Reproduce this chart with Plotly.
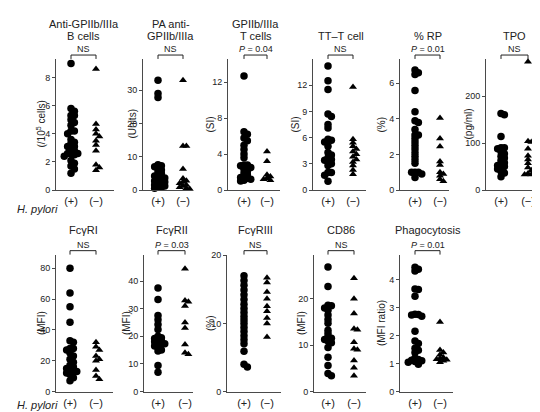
import plotly.graph_objects as go

W, H = 540, 412

# ---------------- data ----------------
titles = ["Anti-GPIIb/IIIa<br>B cells", "PA anti-<br>GPIIb/IIIa", "GPIIb/IIIa<br>T cells", "TT–T cell",
          "% RP", "TPO", "FcγRI", "FcγRII", "FcγRIII", "CD86", "Phagocytosis"]
y_titles = ["(/10<sup>5</sup> cells)", "(Units)", "(SI)", "(SI)", "(%)", "(pg/ml)",
            "(MFI)", "(MFI)", "(%)", "(MFI)", "(MFI ratio)"]
stats = ["NS", "NS", "<i>P</i> = 0.04", "NS", "<i>P</i> = 0.01", "NS",
         "NS", "<i>P</i> = 0.03", "NS", "NS", "<i>P</i> = 0.01"]
y_ticks = [[0, 2, 4, 6, 8], [0, 10, 20, 30], [0, 4, 8, 12], [0, 3, 6, 9, 12], [0, 2, 4, 6], [0, 100, 200],
           [0, 20, 40, 60, 80], [0, 10, 20, 30, 40], [0, 10, 20], [0, 10, 20], [0, 1, 2, 3, 4]]
y_max = [9.32, 39.4, 14.6, 15.0, 7.37, 279, 88.9, 49.6, 20.1, 29.5, 4.91]
group_labels = ["(+)", "(−)"]

b_cells_pos = [9.0, 5.8, 5.6, 5.3, 5.3, 5.0, 4.8, 4.6, 4.2, 4.2, 4.0, 3.6, 3.4, 3.3, 3.1, 3.1, 3.0, 2.8,
               2.6, 2.6, 2.6, 2.5, 2.4, 2.1, 1.9, 1.7, 1.5, 1.2]
b_cells_neg = [8.6, 4.7, 4.3, 4.0, 3.8, 3.5, 3.2, 2.8, 1.8, 1.6, 1.4]
pa_pos = [33.0, 29.0, 27.8, 7.6, 7.3, 7.0, 6.5, 6.0, 5.5, 5.0, 4.5, 4.2, 4.0, 3.6, 3.3, 3.0, 2.7, 2.4,
          2.0, 1.8, 1.5, 1.2, 1.0, 0.8, 0.5]
pa_neg = [33.0, 13.2, 13.2, 6.3, 3.5, 2.8, 2.4, 2.0, 1.5, 1.2, 0.8, 0.5, 0.3]
t_pos = [12.7, 6.5, 6.2, 5.8, 5.5, 5.0, 4.5, 4.0, 3.6, 2.8, 2.8, 2.7, 2.5, 2.3, 2.1, 1.9, 1.7, 1.5,
         1.4, 1.3, 1.2, 1.1, 1.0]
t_neg = [4.3, 3.2, 1.7, 1.5, 1.3, 1.2, 1.1]
tt_pos = [14.2, 12.5, 11.5, 8.7, 8.4, 7.5, 7.1, 5.8, 5.7, 5.5, 5.0, 4.3, 4.0, 3.7, 3.5, 3.4, 3.3, 3.0,
          2.8, 2.0, 2.0, 1.7, 1.0]
tt_neg = [11.8, 5.8, 5.4, 5.0, 4.7, 4.4, 4.1, 3.8, 3.5, 3.2, 2.8, 2.3, 1.8]
rp_pos = [6.75, 6.6, 6.5, 5.6, 4.4, 3.9, 3.8, 3.4, 3.1, 3.1, 2.9, 2.7, 2.5, 2.3, 2.1, 1.9, 1.7, 1.5,
          1.0, 1.0, 1.0, 0.9, 0.7]
rp_neg = [4.05, 2.9, 2.45, 1.6, 1.4, 1.0, 0.9, 0.8, 0.6, 0.5]
tpo_pos = [163, 160, 114, 90, 90, 88, 82, 77, 72, 68, 63, 58, 55, 52, 50, 48, 45, 40, 36, 28]
tpo_neg = [273, 104, 102, 88, 73, 65, 57, 48, 42, 35, 33, 33]
fc1_pos = [80, 64, 55, 45, 33, 32, 28, 28, 27, 25, 23, 21, 19, 17, 16, 15, 14, 13, 13, 12, 11, 9, 7]
fc1_neg = [32, 29, 27, 23, 21, 20, 14, 10, 8]
fc2_pos = [37.5, 33.3, 27.5, 26, 24.3, 22.5, 20, 19.5, 19.2, 18.8, 18.3, 18, 17.5, 17.3, 17, 16.5,
           16, 15, 14.7, 9.4, 7]
fc2_neg = [44.5, 33, 32.5, 31, 25, 23, 17, 14, 13.5]
fc3_pos = [17.0, 16.3, 15.6, 14.9, 14.2, 13.5, 12.8, 12.2, 11.6, 11.0, 10.5, 10.0, 9.4, 8.8, 8.2,
           7.6, 7.0, 5.9, 4.0, 3.6]
fc3_neg = [16.7, 16.0, 14.6, 13.6, 12.5, 11.8, 10.8, 10.0, 8.0]
cd86_pos = [26.8, 22.6, 18.6, 18.5, 18.0, 17.5, 16.5, 15.5, 14.7, 13.2, 12.5, 11.8, 11.5, 11.2, 10.9,
            10.5, 9.5, 7.4, 5.6, 3.9, 3.4]
cd86_neg = [24.4, 20.0, 16.8, 13.5, 13.3, 10.6, 9.2, 9.0, 6.7, 5.1, 3.4]
phago_pos = [4.46, 4.38, 4.32, 3.68, 3.66, 3.42, 2.77, 2.76, 2.74, 2.70, 2.16, 1.81, 1.72, 1.55, 1.48,
             1.40, 1.20, 1.15, 1.12, 1.10, 1.08, 1.05, 0.98]
phago_neg = [2.49, 1.49, 1.40, 1.32, 1.22, 1.18, 1.16, 1.14, 1.10, 1.05]

series_pos = [b_cells_pos, pa_pos, t_pos, tt_pos, rp_pos, tpo_pos, fc1_pos, fc2_pos, fc3_pos, cd86_pos, phago_pos]
series_neg = [b_cells_neg, pa_neg, t_neg, tt_neg, rp_neg, tpo_neg, fc1_neg, fc2_neg, fc3_neg, cd86_neg, phago_neg]

# ---------------- layout geometry (pixels) ----------------
# axis_x, cat1_x, cat2_x, x_end, ytitle_x, row
geo = [
    (48, 63, 88, 106, 33, 0),
    (135, 150, 175, 185, 124, 0),
    (220, 236, 259, 272, 202, 0),
    (305, 320, 345, 358, 287, 0),
    (392, 407, 432, 441, 373, 0),
    (478, 493, 520, 537, 460, 0),
    (48, 62, 88, 105, 33, 1),
    (136, 150, 177, 185, 118, 1),
    (219, 236, 259, 273, 202, 1),
    (306, 320, 346, 358, 293, 1),
    (392, 407, 432, 445, 373, 1),
]
rows = [dict(ybot=182, ytop=48, stat_y=38, title_y=[12, 25], lab_y=201),
        dict(ybot=388, ytop=248, stat_y=238, title_y=[210, 223], lab_y=402)]

AX = "#4a4a4a"
TXT = "#222222"
FONT = "Liberation Sans, Arial, sans-serif"
DIAM = 7.5
TRI = 7


def swarm(vals, ppu_y, ppu_x):
    """simple beeswarm: horizontal offsets (data units) avoiding heavy marker overlap"""
    order = sorted(range(len(vals)), key=lambda i: -vals[i])
    placed = []
    res = [0.0] * len(vals)
    step = DIAM * 0.45
    mind = DIAM * 0.42
    cands = [0.0]
    for j in range(1, 12):
        cands += [j * step, -j * step]
    for i in order:
        y = vals[i] * ppu_y
        chosen = cands[-1]
        for c in cands:
            if all((c - px) ** 2 + (y - py) ** 2 >= mind ** 2 for px, py in placed):
                chosen = c
                break
        placed.append((chosen, y))
        res[i] = chosen / ppu_x
    return res


fig = go.Figure()
annotations = []
shapes = []

for k in range(11):
    ax_x, c1, c2, xend, ytx, row = geo[k]
    r = rows[row]
    n = k + 1
    xa = "x" if n == 1 else f"x{n}"
    ya = "y" if n == 1 else f"y{n}"
    xkey = "xaxis" if n == 1 else f"xaxis{n}"
    ykey = "yaxis" if n == 1 else f"yaxis{n}"
    ppx = c2 - c1
    x0 = 1 - (c1 - ax_x) / ppx
    x1 = 2 + (xend - c2) / ppx
    ppu_y = (r["ybot"] - r["ytop"]) / y_max[k]

    for gi, (vals, sym, size) in enumerate([(series_pos[k], "circle", DIAM), (series_neg[k], "triangle-up", TRI)]):
        offs = swarm(vals, ppu_y, ppx)
        fig.add_trace(go.Scatter(
            x=[gi + 1 + o for o in offs], y=vals, mode="markers",
            marker=dict(symbol=sym, size=size, color="black", line=dict(width=0)),
            xaxis=xa, yaxis=ya, showlegend=False, hoverinfo="y", cliponaxis=False))

    fig.layout[xkey] = dict(
        domain=[ax_x / W, xend / W], range=[x0, x1], anchor=ya,
        showline=True, linecolor=AX, linewidth=1, showgrid=False, zeroline=False,
        tickmode="array", tickvals=[1, 2], ticktext=group_labels, ticks="",
        ticklabelstandoff=1, tickfont=dict(size=11, color=TXT, family=FONT), fixedrange=True)
    fig.layout[ykey] = dict(
        domain=[1 - r["ybot"] / H, 1 - r["ytop"] / H], range=[0, y_max[k]], anchor=xa,
        showline=True, linecolor=AX, linewidth=1, showgrid=False, zeroline=False,
        tickmode="array", tickvals=y_ticks[k], ticks="outside", ticklen=3, tickcolor=AX,
        tickfont=dict(size=9, color=TXT, family=FONT), fixedrange=True)

    cx = ((c1 + c2) / 2) / W
    lines = titles[k].split("<br>")
    ty = r["title_y"][-len(lines):]
    for line, yy in zip(lines, ty):
        annotations.append(dict(text=line, x=cx, y=1 - yy / H, xref="paper", yref="paper",
                                xanchor="center", yanchor="middle", showarrow=False,
                                font=dict(size=11, color=TXT, family=FONT)))
    annotations.append(dict(text=stats[k], x=cx, y=1 - r["stat_y"] / H, xref="paper", yref="paper",
                            xanchor="center", yanchor="middle", showarrow=False,
                            font=dict(size=9, color=TXT, family=FONT)))
    annotations.append(dict(text=y_titles[k], x=ytx / W, y=1 - (r["ybot"] + r["ytop"]) / 2 / H,
                            xref="paper", yref="paper", xanchor="center", yanchor="middle",
                            textangle=-90, showarrow=False,
                            font=dict(size=10, color=TXT, family=FONT)))
    by = r["ytop"] - 4
    shapes.append(dict(type="path", xref=xa, yref="paper",
                       path=f"M 1,{1 - (by + 4) / H} L 1,{1 - by / H} L 2,{1 - by / H} L 2,{1 - (by + 4) / H}",
                       line=dict(color=TXT, width=1)))

for r in rows:
    annotations.append(dict(text="<i>H. pylori</i>", x=7 / W, y=1 - r["lab_y"] / H, xref="paper", yref="paper",
                            xanchor="left", yanchor="middle", showarrow=False,
                            font=dict(size=11, color=TXT, family=FONT)))

fig.update_layout(width=W, height=H, margin=dict(l=0, r=0, t=0, b=0),
                  paper_bgcolor="white", plot_bgcolor="white",
                  annotations=annotations, shapes=shapes, showlegend=False)

fig.write_html("out.html")
